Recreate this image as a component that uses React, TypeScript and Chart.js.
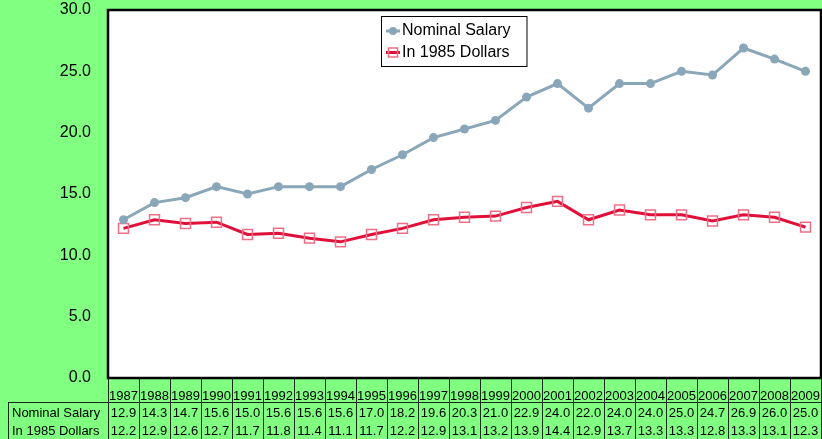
import React, { useEffect, useRef } from "react";
import { Chart, registerables } from "chart.js";
Chart.register(...registerables);

const years = ["1987","1988","1989","1990","1991","1992","1993","1994","1995","1996","1997","1998","1999","2000","2001","2002","2003","2004","2005","2006","2007","2008","2009"];
const nominalSalary = [12.9,14.3,14.7,15.6,15.0,15.6,15.6,15.6,17.0,18.2,19.6,20.3,21.0,22.9,24.0,22.0,24.0,24.0,25.0,24.7,26.9,26.0,25.0];
const in1985Dollars = [12.2,12.9,12.6,12.7,11.7,11.8,11.4,11.1,11.7,12.2,12.9,13.1,13.2,13.9,14.4,12.9,13.7,13.3,13.3,12.8,13.3,13.1,12.3];
const seriesLabels = ["Nominal Salary", "In 1985 Dollars"];
const yMin = 0;
const yMax = 30;
const yStep = 5;

const FONT = '"Liberation Sans", Arial, Helvetica, sans-serif';
const BG = "#80FF80";
const NOM_COLOR = "#8AA7B9";
const REAL_COLOR = "#E0103A";
const REAL_POINT = "#EE6F86";

export default function App() {
  const ref = useRef<HTMLCanvasElement>(null);
  useEffect(() => {
    document.body.style.margin = "0";
    const canvas = ref.current!;

    const bgPlugin = {
      id: "bgPlugin",
      beforeDraw(chart: any) {
        const { ctx, width, height, chartArea: a } = chart;
        ctx.save();
        ctx.fillStyle = BG;
        ctx.fillRect(0, 0, width, height);
        ctx.fillStyle = "#ffffff";
        ctx.fillRect(a.left, a.top, a.right - a.left, a.bottom - a.top);
        ctx.restore();
      },
    };

    const overlayPlugin = {
      id: "overlayPlugin",
      afterDraw(chart: any) {
        const { ctx, chartArea: a, height } = chart;
        const xs = chart.scales.x;
        const n = years.length;
        const colW = (a.right - a.left) / n;
        ctx.save();
        // frame
        ctx.strokeStyle = "#000";
        ctx.lineWidth = 2.5;
        ctx.strokeRect(a.left, a.top, a.right - a.left, a.bottom - a.top);

        // data table
        const headerTop = a.bottom;
        const rowTop = a.bottom + 24;
        ctx.lineWidth = 1;
        ctx.strokeStyle = "#1a2a1a";
        ctx.beginPath();
        for (let i = 0; i <= n; i++) {
          const x = Math.round(a.left + i * colW) + 0.5;
          ctx.moveTo(x, headerTop);
          ctx.lineTo(x, height);
        }
        ctx.moveTo(8.5, rowTop + 0.5);
        ctx.lineTo(a.right, rowTop + 0.5);
        ctx.moveTo(8.5, rowTop);
        ctx.lineTo(8.5, height);
        ctx.stroke();

        ctx.fillStyle = "#000";
        ctx.font = `13px ${FONT}`;
        ctx.textBaseline = "middle";
        ctx.textAlign = "center";
        years.forEach((y, i) => {
          const cx = xs.getPixelForValue(i);
          ctx.fillText(y, cx, headerTop + 18);
          ctx.fillText(nominalSalary[i].toFixed(1), cx, rowTop + 11);
          ctx.fillText(in1985Dollars[i].toFixed(1), cx, rowTop + 29.5);
        });
        ctx.textAlign = "left";
        ctx.fillText(seriesLabels[0], 12, rowTop + 11);
        ctx.fillText(seriesLabels[1], 12, rowTop + 29.5);

        // legend
        const lx = a.left + 273;
        const ly = a.top + 6;
        ctx.font = `16px ${FONT}`;
        const tw = Math.max(ctx.measureText(seriesLabels[0]).width, ctx.measureText(seriesLabels[1]).width);
        const bw = 21 + tw + 16;
        const bh = 50;
        ctx.fillStyle = "#fff";
        ctx.fillRect(lx, ly, bw, bh);
        ctx.strokeStyle = "#000";
        ctx.lineWidth = 1;
        ctx.strokeRect(lx + 0.5, ly + 0.5, bw, bh);
        const y1 = ly + 15;
        const y2 = ly + 36.5;
        ctx.lineWidth = 3;
        ctx.strokeStyle = NOM_COLOR;
        ctx.beginPath();
        ctx.moveTo(lx + 5, y1);
        ctx.lineTo(lx + 19, y1);
        ctx.stroke();
        ctx.fillStyle = NOM_COLOR;
        ctx.beginPath();
        ctx.arc(lx + 12, y1, 4, 0, Math.PI * 2);
        ctx.fill();
        ctx.strokeStyle = REAL_COLOR;
        ctx.beginPath();
        ctx.moveTo(lx + 5, y2);
        ctx.lineTo(lx + 19, y2);
        ctx.stroke();
        ctx.lineWidth = 1.5;
        ctx.strokeStyle = REAL_POINT;
        ctx.strokeRect(lx + 7.5, y2 - 4.5, 9, 9);
        ctx.fillStyle = "#000";
        ctx.textAlign = "left";
        ctx.textBaseline = "middle";
        ctx.fillText(seriesLabels[0], lx + 21, y1);
        ctx.fillText(seriesLabels[1], lx + 21, y2);
        ctx.restore();
      },
    };

    const chart = new Chart(canvas, {
      type: "line",
      data: {
        labels: years,
        datasets: [
          {
            label: seriesLabels[0],
            data: nominalSalary,
            borderColor: NOM_COLOR,
            backgroundColor: NOM_COLOR,
            borderWidth: 3,
            pointStyle: "circle",
            pointRadius: 4.5,
            pointBorderWidth: 0,
            pointBackgroundColor: NOM_COLOR,
            tension: 0,
          },
          {
            label: seriesLabels[1],
            data: in1985Dollars,
            borderColor: REAL_COLOR,
            backgroundColor: "rgba(0,0,0,0)",
            borderWidth: 3,
            pointStyle: "rect",
            pointRadius: 7,
            pointBorderWidth: 1.5,
            pointBorderColor: REAL_POINT,
            pointBackgroundColor: "rgba(0,0,0,0)",
            tension: 0,
          },
        ],
      },
      options: {
        responsive: false,
        animation: false,
        events: [],
        layout: { autoPadding: false, padding: { left: 0, right: 1, top: 10, bottom: 61 } },
        plugins: { legend: { display: false }, tooltip: { enabled: false } },
        scales: {
          x: {
            type: "category",
            display: false,
            offset: true,
            grid: { display: false },
          },
          y: {
            min: yMin,
            max: yMax,
            grid: { display: false, drawTicks: false },
            border: { display: false },
            ticks: {
              stepSize: yStep,
              padding: 17,
              color: "#000",
              font: { family: FONT, size: 16 },
              callback: (v: any) => Number(v).toFixed(1),
            },
            afterFit: (s: any) => {
              s.width = 108;
              s.paddingTop = 0;
              s.paddingBottom = 0;
              s.paddingLeft = 0;
              s.paddingRight = 0;
            },
          },
        },
      },
      plugins: [bgPlugin, overlayPlugin],
    });
    return () => chart.destroy();
  }, []);
  return (
    <div style={{ width: 822, height: 439, background: BG }}>
      <canvas ref={ref} width={822} height={439} style={{ display: "block" }} />
    </div>
  );
}
